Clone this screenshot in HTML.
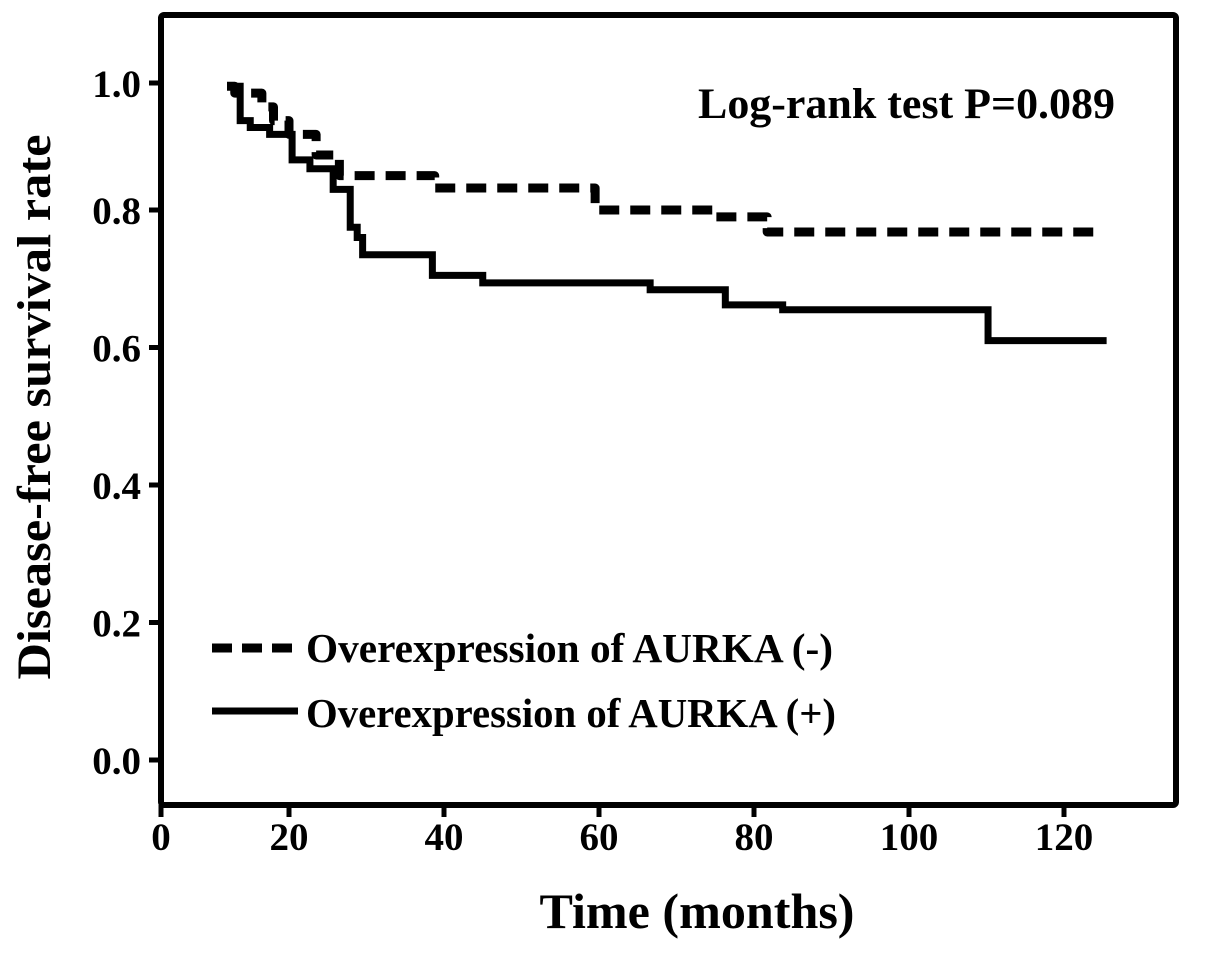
<!DOCTYPE html>
<html><head><meta charset="utf-8"><style>
body{margin:0;background:#fff}
svg text{font-family:"Liberation Serif",serif;font-weight:bold;fill:#000}
</style></head><body>
<svg id="chart" width="1205" height="952" viewBox="0 0 1205 952" xmlns="http://www.w3.org/2000/svg">
<rect x="161" y="15" width="1015" height="790" fill="none" stroke="#000" stroke-width="6" rx="3"/>
<g id="ticks"></g>
<g id="series"></g>
<text x="698" y="118" font-size="43" textLength="417" lengthAdjust="spacingAndGlyphs">Log-rank test P=0.089</text>
<line x1="212" y1="648" x2="298" y2="648" stroke="#000" stroke-width="9" stroke-dasharray="20,10"/>
<text x="306" y="662" font-size="41" textLength="527" lengthAdjust="spacingAndGlyphs">Overexpression of AURKA (-)</text>
<line x1="212" y1="711" x2="298" y2="711" stroke="#000" stroke-width="7"/>
<text x="306" y="727" font-size="41" textLength="530" lengthAdjust="spacingAndGlyphs">Overexpression of AURKA (+)</text>
<text x="697" y="928" font-size="50" text-anchor="middle" textLength="315" lengthAdjust="spacingAndGlyphs">Time (months)</text>
<text x="0" y="0" font-size="48" text-anchor="middle" textLength="545" lengthAdjust="spacingAndGlyphs" transform="translate(50,407) rotate(-90)">Disease-free survival rate</text>
</svg>
<script>
const xTicks=[0,20,40,60,80,100,120];
const yTicks=[0.0,0.2,0.4,0.6,0.8,1.0];
const negTimes=[12,13,16.5,18,20,23.5,26.5,38.8,59.5,75,81.7];
const negValues=[0.98,0.97,0.95,0.93,0.91,0.88,0.85,0.832,0.80,0.79,0.768];
const negEnd=124.3;
const posTimes=[12.6,13.7,15,17.5,20.4,22.7,25.7,27.9,28.8,29.5,38.5,45,66.6,76.3,83.7,110.2];
const posValues=[0.98,0.93,0.92,0.91,0.873,0.86,0.83,0.775,0.76,0.735,0.705,0.694,0.684,0.662,0.655,0.61];
const posEnd=125.5;
const NS='http://www.w3.org/2000/svg';
function xs(t){return 134+7.75*t;}
function ys(v){return 760-687.5*v;}
function xTickPos(t){return t===0?161:xs(t);}
function yTickPos(v){return v===1?83:ys(v);}
const tg=document.getElementById('ticks');
xTicks.forEach(t=>{
  const x=xTickPos(t);
  const l=document.createElementNS(NS,'line');
  
  
  l.setAttribute('x1',x);l.setAttribute('x2',x);l.setAttribute('y1',805);l.setAttribute('y2',817);
  l.setAttribute('stroke','#000');l.setAttribute('stroke-width',5);tg.appendChild(l);
  const tx=document.createElementNS(NS,'text');
  
  
  tx.setAttribute('x',x);tx.setAttribute('y',850);tx.setAttribute('font-size',39);tx.setAttribute('text-anchor','middle');
  tx.textContent=t;tg.appendChild(tx);
});
yTicks.forEach(v=>{
  const y=yTickPos(v);
  const l=document.createElementNS(NS,'line');
  
  
  l.setAttribute('x1',149);l.setAttribute('x2',161);l.setAttribute('y1',y);l.setAttribute('y2',y);
  l.setAttribute('stroke','#000');l.setAttribute('stroke-width',5);tg.appendChild(l);
  const tx=document.createElementNS(NS,'text');
  
  
  tx.setAttribute('x',141);tx.setAttribute('y',y+14);tx.setAttribute('font-size',39);tx.setAttribute('text-anchor','end');
  tx.textContent=v.toFixed(1);tg.appendChild(tx);
});
function stepPath(ts,vs,end){
  let d='M'+xs(ts[0])+','+ys(vs[0]);
  for(let i=1;i<ts.length;i++){d+=' H'+xs(ts[i])+' V'+ys(vs[i]);}
  d+=' H'+xs(end);return d;
}
const sg=document.getElementById('series');
const pn=document.createElementNS(NS,'path');


pn.setAttribute('d',stepPath(negTimes,negValues,negEnd));
pn.setAttribute('fill','none');pn.setAttribute('stroke','#000');pn.setAttribute('stroke-width',9);
pn.setAttribute('stroke-dasharray','20,11');pn.setAttribute('stroke-linejoin','round');
sg.appendChild(pn);
const pp=document.createElementNS(NS,'path');


pp.setAttribute('d',stepPath(posTimes,posValues,posEnd));
pp.setAttribute('fill','none');pp.setAttribute('stroke','#000');pp.setAttribute('stroke-width',7);
sg.appendChild(pp);
</script>
</body></html>
